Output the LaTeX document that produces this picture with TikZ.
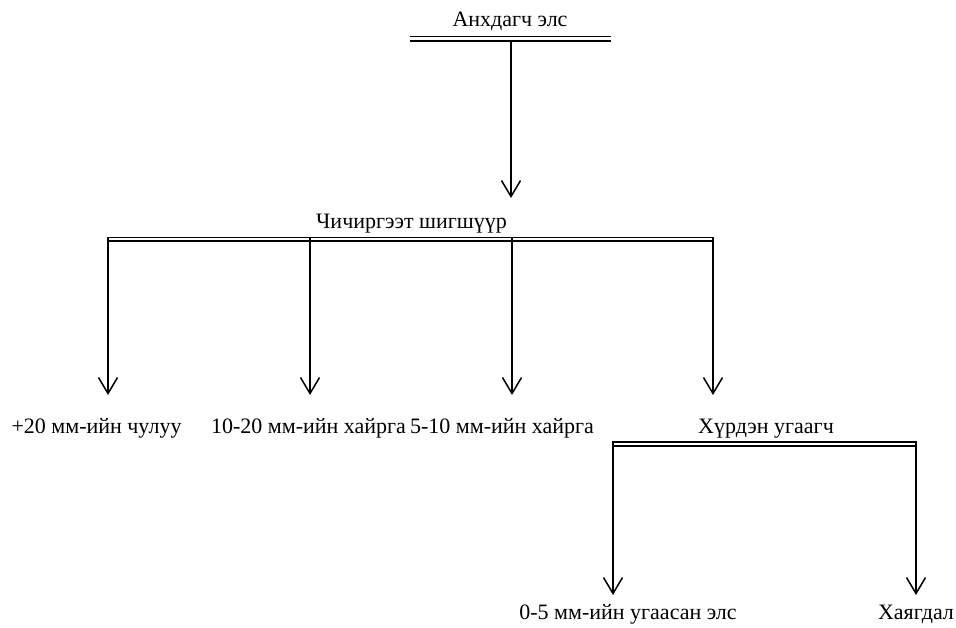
\documentclass[tikz,border=0pt]{standalone}
\usepackage{fontspec}
\setmainfont{Liberation Serif}
\usetikzlibrary{arrows.meta}
\begin{document}
\begin{tikzpicture}[x=1pt,y=-1pt,
  lbl/.style={anchor=base,inner sep=0pt,font=\fontsize{22}{24}\selectfont},
  thinbar/.style={line width=1.1pt},
  thickbar/.style={line width=1.6pt},
  arr/.style={line width=1.5pt,-{Straight Barb[length=16pt,width=19pt,line width=1.5pt]}}]
\useasboundingbox (0,0) rectangle (956,628);

% labels
\node[lbl] (src) at (510,27) {Анхдагч элс};
\node[lbl] (screen) at (411.5,229) {Чичиргээт шигшүүр};
\node[lbl] (l1) at (96.5,433) {+20 мм-ийн чулуу};
\node[lbl] (l2) at (308.5,433) {10-20 мм-ийн хайрга};
\node[lbl] (l3) at (502,433) {5-10 мм-ийн хайрга};
\node[lbl] (wash) at (766,433) {Хүрдэн угаагч};
\node[lbl] (l5) at (628,619) {0-5 мм-ийн угаасан элс};
\node[lbl] (l6) at (916,619) {Хаягдал};

% bars (double lines)
\coordinate (b0L) at (410,36.7); \coordinate (b0R) at (611,36.7);
\coordinate (b0l) at (410,41);   \coordinate (b0r) at (611,41);
\draw[thickbar] (b0L) -- (b0R);
\draw[thickbar] (b0l) -- (b0r);

\coordinate (b1L) at (107,237.5); \coordinate (b1R) at (714,237.5);
\coordinate (b1l) at (107,241);   \coordinate (b1r) at (714,241);
\draw[thinbar] (b1L) -- (b1R);
\draw[thickbar] (b1l) -- (b1r);

\coordinate (b2L) at (612,442); \coordinate (b2R) at (917,442);
\coordinate (b2l) at (612,446); \coordinate (b2r) at (917,446);
\draw[thinbar] (b2L) -- (b2R);
\draw[thickbar] (b2l) -- (b2r);

% arrow ends
\coordinate (s0) at (511,41);  \coordinate (t0) at (511,198);
\coordinate (s1) at (108,237.5); \coordinate (t1) at (108,395);
\coordinate (s2) at (310,237.5); \coordinate (t2) at (310,395);
\coordinate (s3) at (512,237.5); \coordinate (t3) at (512,395);
\coordinate (s4) at (713,237.5); \coordinate (t4) at (713,395);
\coordinate (s5) at (613,442);   \coordinate (t5) at (613,595);
\coordinate (s6) at (916,442);   \coordinate (t6) at (916,595);

\draw[arr] (s0) -- (t0);
\draw[arr] (s1) -- (t1);
\draw[arr] (s2) -- (t2);
\draw[arr] (s3) -- (t3);
\draw[arr] (s4) -- (t4);
\draw[arr] (s5) -- (t5);
\draw[arr] (s6) -- (t6);
\end{tikzpicture}
\end{document}
